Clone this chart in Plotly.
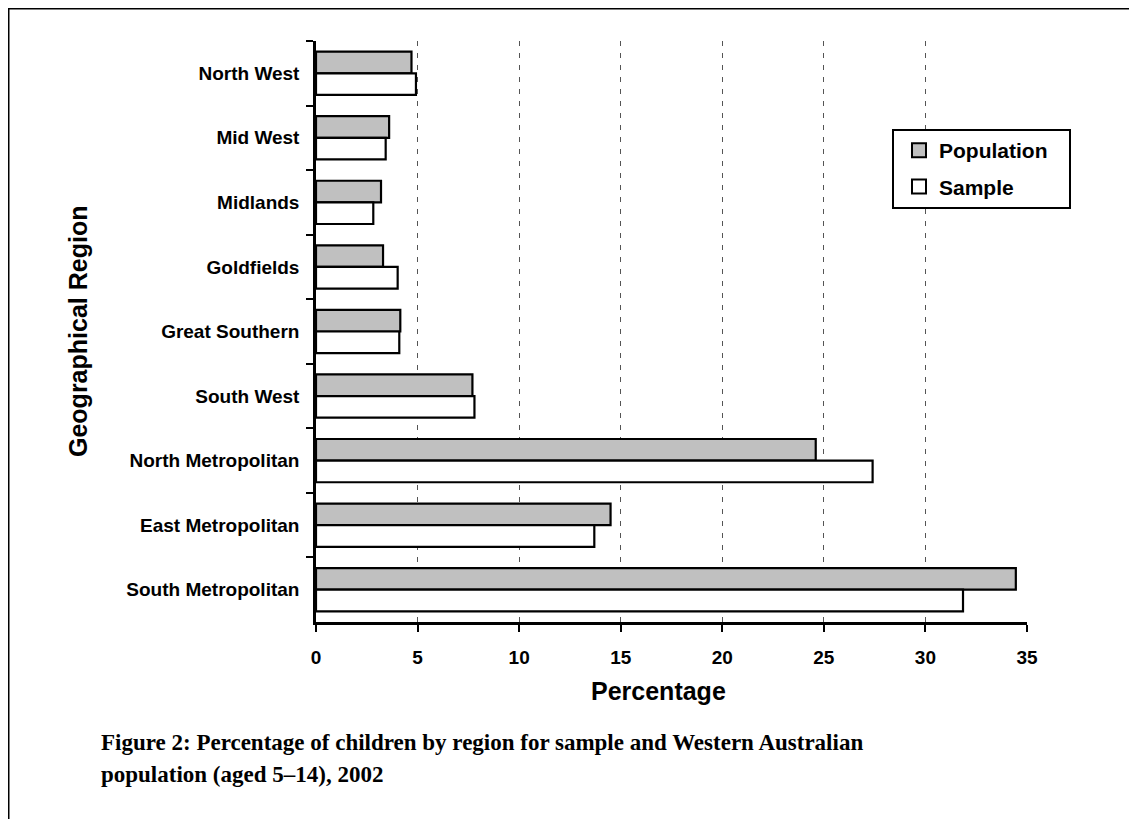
import plotly.graph_objects as go

regions = ["North West", "Mid West", "Midlands", "Goldfields", "Great Southern",
           "South West", "North Metropolitan", "East Metropolitan", "South Metropolitan"]
population = [4.7, 3.6, 3.2, 3.3, 4.15, 7.7, 24.6, 14.5, 34.45]
sample = [4.92, 3.43, 2.82, 4.02, 4.1, 7.8, 27.4, 13.7, 31.85]
x_ticks = [0, 5, 10, 15, 20, 25, 30, 35]
series_names = ["Population", "Sample"]
series_colors = ["#c0c0c0", "white"]

OFF = 8  # page body margin
W, H = 1121, 811
L, T = 316 - OFF, 41 - OFF
R = W - (1027 - OFF)
B = H - (622 - OFF)
pw, ph = W - L - R, H - T - B

def px(x):  # reference screen x -> paper
    return (x - OFF - L) / pw

def py(y):  # reference screen y -> paper
    return (H - B - (y - OFF)) / ph

SANS = "Liberation Sans, Arial, sans-serif"

fig = go.Figure()
for name, vals, col in zip(series_names, [population, sample], series_colors):
    fig.add_trace(go.Bar(name=name, y=regions, x=vals, orientation="h", showlegend=False,
                         marker=dict(color=col, line=dict(color="black", width=2.2))))
# legend entries with larger square swatches
for i, (name, col) in enumerate(zip(series_names, series_colors)):
    fig.add_trace(go.Scatter(name=name, x=[None], y=[None], mode="markers", legendgroup=str(i),
                             marker=dict(symbol="square", size=14, color=col,
                                         line=dict(color="black", width=2))))

fig.update_layout(
    width=W, height=H,
    margin=dict(l=L, r=R, t=T, b=B),
    paper_bgcolor="white", plot_bgcolor="white",
    barmode="group", bargap=0.33, bargroupgap=0,
    font=dict(family=SANS, color="black"),
    showlegend=True,
    legend=dict(x=px(899), y=py(130), xanchor="left", yanchor="top",
                bgcolor="rgba(0,0,0,0)", borderwidth=0,
                font=dict(size=21, family=SANS, weight="bold"),
                itemwidth=30, tracegroupgap=6),
    xaxis=dict(range=[0, 35], tickvals=x_ticks, showgrid=True, gridcolor="#555555",
               griddash="5px,7px", gridwidth=1.2, zeroline=False,
               showline=True, linecolor="black", linewidth=2.5,
               ticks="outside", ticklen=7, tickwidth=2, tickcolor="black",
               ticklabelstandoff=9,
               tickfont=dict(size=19, weight="bold")),
    yaxis=dict(autorange="reversed", categoryorder="array", categoryarray=regions,
               showline=True, linecolor="black", linewidth=2.5, showgrid=False,
               ticks="outside", ticklen=7, tickwidth=2, tickcolor="black",
               tickson="boundaries", ticklabelstandoff=10,
               tickfont=dict(size=19, weight="bold")),
)

# legend box
fig.add_shape(type="rect", xref="paper", yref="paper", layer="above",
              x0=px(893), x1=px(1070), y0=py(208), y1=py(130),
              fillcolor="white", line=dict(color="black", width=2))

# axis titles
fig.add_annotation(xref="paper", yref="paper", x=px(658), y=py(691), xanchor="center", yanchor="middle",
                   showarrow=False, text="Percentage",
                   font=dict(family=SANS, size=25, weight="bold", color="black"))
fig.add_annotation(xref="paper", yref="paper", x=px(78), y=py(332), xanchor="center", yanchor="middle",
                   showarrow=False, text="Geographical Region", textangle=-90,
                   font=dict(family=SANS, size=25, weight="bold", color="black"))

# frame lines (top and left)
fig.add_shape(type="line", xref="paper", yref="paper", x0=px(8), x1=px(1137), y0=py(8.5), y1=py(8.5),
              line=dict(color="black", width=2))
fig.add_shape(type="line", xref="paper", yref="paper", x0=px(8.5), x1=px(8.5), y0=py(8), y1=py(827),
              line=dict(color="black", width=2))

SERIF = "Liberation Serif, DejaVu Serif, serif"
caption_lines = ["Figure 2: Percentage of children by region for sample and Western Australian",
                 "population (aged 5–14), 2002"]
for line, yc in zip(caption_lines, [742, 774]):
    fig.add_annotation(xref="paper", yref="paper", x=px(99), y=py(yc), xanchor="left", yanchor="middle",
                       align="left", showarrow=False, text=line,
                       font=dict(family=SERIF, size=23, weight="bold", color="black"))

fig.write_html("out.html")
